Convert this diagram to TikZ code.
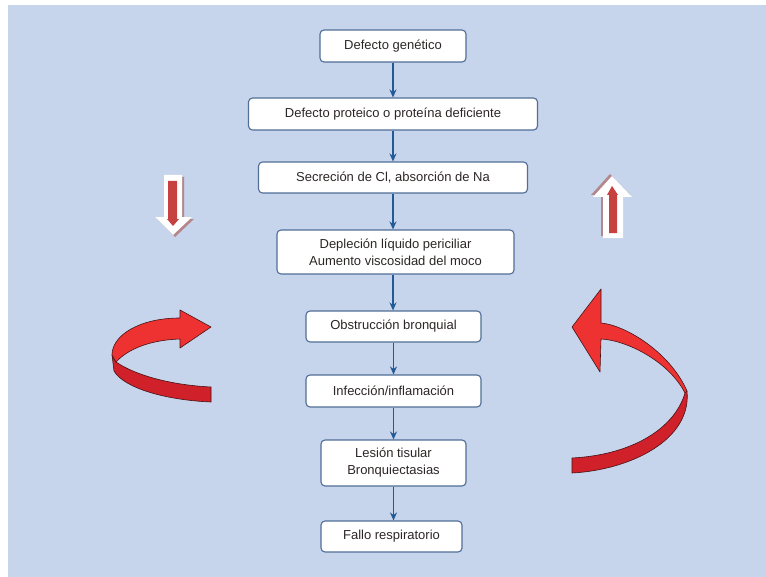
\documentclass[tikz,border=0pt]{standalone}
\usepackage{fontspec}
\setmainfont{Liberation Sans}
\usetikzlibrary{arrows.meta}
\definecolor{bg}{RGB}{198,212,236}
\definecolor{boxline}{RGB}{80,110,150}
\definecolor{arrowblue}{RGB}{35,90,150}
\definecolor{txt}{RGB}{45,38,38}
\definecolor{redlight}{RGB}{238,50,50}
\definecolor{reddark}{RGB}{208,32,42}
\definecolor{redinner}{RGB}{200,65,65}
\definecolor{shadowred}{RGB}{180,135,140}
\definecolor{ribbonline}{RGB}{70,20,20}
\tikzset{
  box/.style={draw=boxline, line width=1.1bp, rounded corners=4bp, fill=white,
    text=txt, font=\fontsize{13bp}{17bp}\selectfont, align=center, inner sep=0pt},
  conn/.style={draw=arrowblue, line width=1.4bp, -{Stealth[length=8bp,width=7bp]}},
  ribbonlight/.style={fill=redlight, draw=ribbonline, line width=0.6bp, line join=round},
  ribbondark/.style={fill=reddark, draw=ribbonline, line width=0.6bp, line join=round}
}
\begin{document}
\begin{tikzpicture}[x=1bp,y=-1bp]
\useasboundingbox (0,0) rectangle (766,577);
\fill[bg] (8,5) rectangle (766,577);

% boxes
\node[box, minimum width=146bp, minimum height=32bp] (b1) at (393,46) {Defecto genético};
\node[box, minimum width=289bp, minimum height=32bp] (b2) at (393,114) {Defecto proteico o proteína deficiente};
\node[box, minimum width=269bp, minimum height=31bp] (b3) at (393,177.5) {Secreción de Cl, absorción de Na};
\node[box, minimum width=237bp, minimum height=44bp] (b4) at (395.5,252) {Depleción líquido periciliar\\Aumento viscosidad del moco};
\node[box, minimum width=175bp, minimum height=31bp] (b5) at (393.5,326.5) {Obstrucción bronquial};
\node[box, minimum width=175bp, minimum height=32bp] (b6) at (393.5,391) {Infección/inflamación};
\node[box, minimum width=145bp, minimum height=46bp] (b7) at (393.5,463) {Lesión tisular\\Bronquiectasias};
\node[box, minimum width=141bp, minimum height=31bp] (b8) at (391.5,536.5) {Fallo respiratorio};

% connectors
\draw[conn] (b1.south) -- (b2.north -| b1.south);
\draw[conn] (b2.south) -- (b3.north -| b2.south);
\draw[conn] (b3.south) -- (b4.north -| b3.south);
\draw[conn] (b4.south -| b3.south) -- (b5.north -| b3.south);
\draw[conn] (b5.south) -- (b6.north -| b5.south);
\draw[conn] (b6.south) -- (b7.north -| b6.south);
\draw[conn] (b7.south) -- (b8.north -| b7.south);

% left down block arrow
\fill[shadowred] (166,177) -- (184,177) -- (184,219) -- (194,219) -- (175,237) -- (157,219) -- (166,219) -- cycle;
\fill[white] (164,175) -- (182,175) -- (182,217) -- (192,217) -- (173,235) -- (155,217) -- (164,217) -- cycle;
\fill[redinner] (168,181) -- (177,181) -- (177,219) -- (179,219) -- (173,226) -- (167,219) -- (168,219) -- cycle;

% right up block arrow
\fill[shadowred] (610,174) -- (630,195) -- (621,195) -- (621,236) -- (601,236) -- (601,195) -- (591,195) -- cycle;
\fill[white] (612,176) -- (632,197) -- (623,197) -- (623,238) -- (603,238) -- (603,197) -- (593,197) -- cycle;
\fill[redinner] (612,186) -- (618,195) -- (617,195) -- (617,233) -- (609,233) -- (609,195) -- (607,195) -- cycle;

% left curved ribbon arrow
\path[ribbondark] (112,355) -- (116,362) .. controls (135,375) and (170,385) .. (211,387)
  -- (211,402) .. controls (165,400) and (124,388) .. (114,371) -- cycle;
\path[ribbonlight] (180,318) -- (180,310) -- (211,327) -- (180,348) -- (180,339)
  .. controls (150,340) and (128,349) .. (116,362) -- (112,355)
  .. controls (112,335) and (140,318) .. (180,318) -- cycle;

% right curved ribbon arrow
\path[ribbondark] (687,391) .. controls (692,440) and (630,470) .. (572,473)
  -- (572,458) .. controls (630,455) and (674,430) .. (685,393) -- cycle;
\path[ribbonlight] (601,323) -- (601,289) -- (572,327) -- (600,372) -- (601,339)
  .. controls (625,340) and (668,360) .. (685,393) -- (687,391)
  .. controls (670,352) and (625,325) .. (601,323) -- cycle;
\end{tikzpicture}
\end{document}
